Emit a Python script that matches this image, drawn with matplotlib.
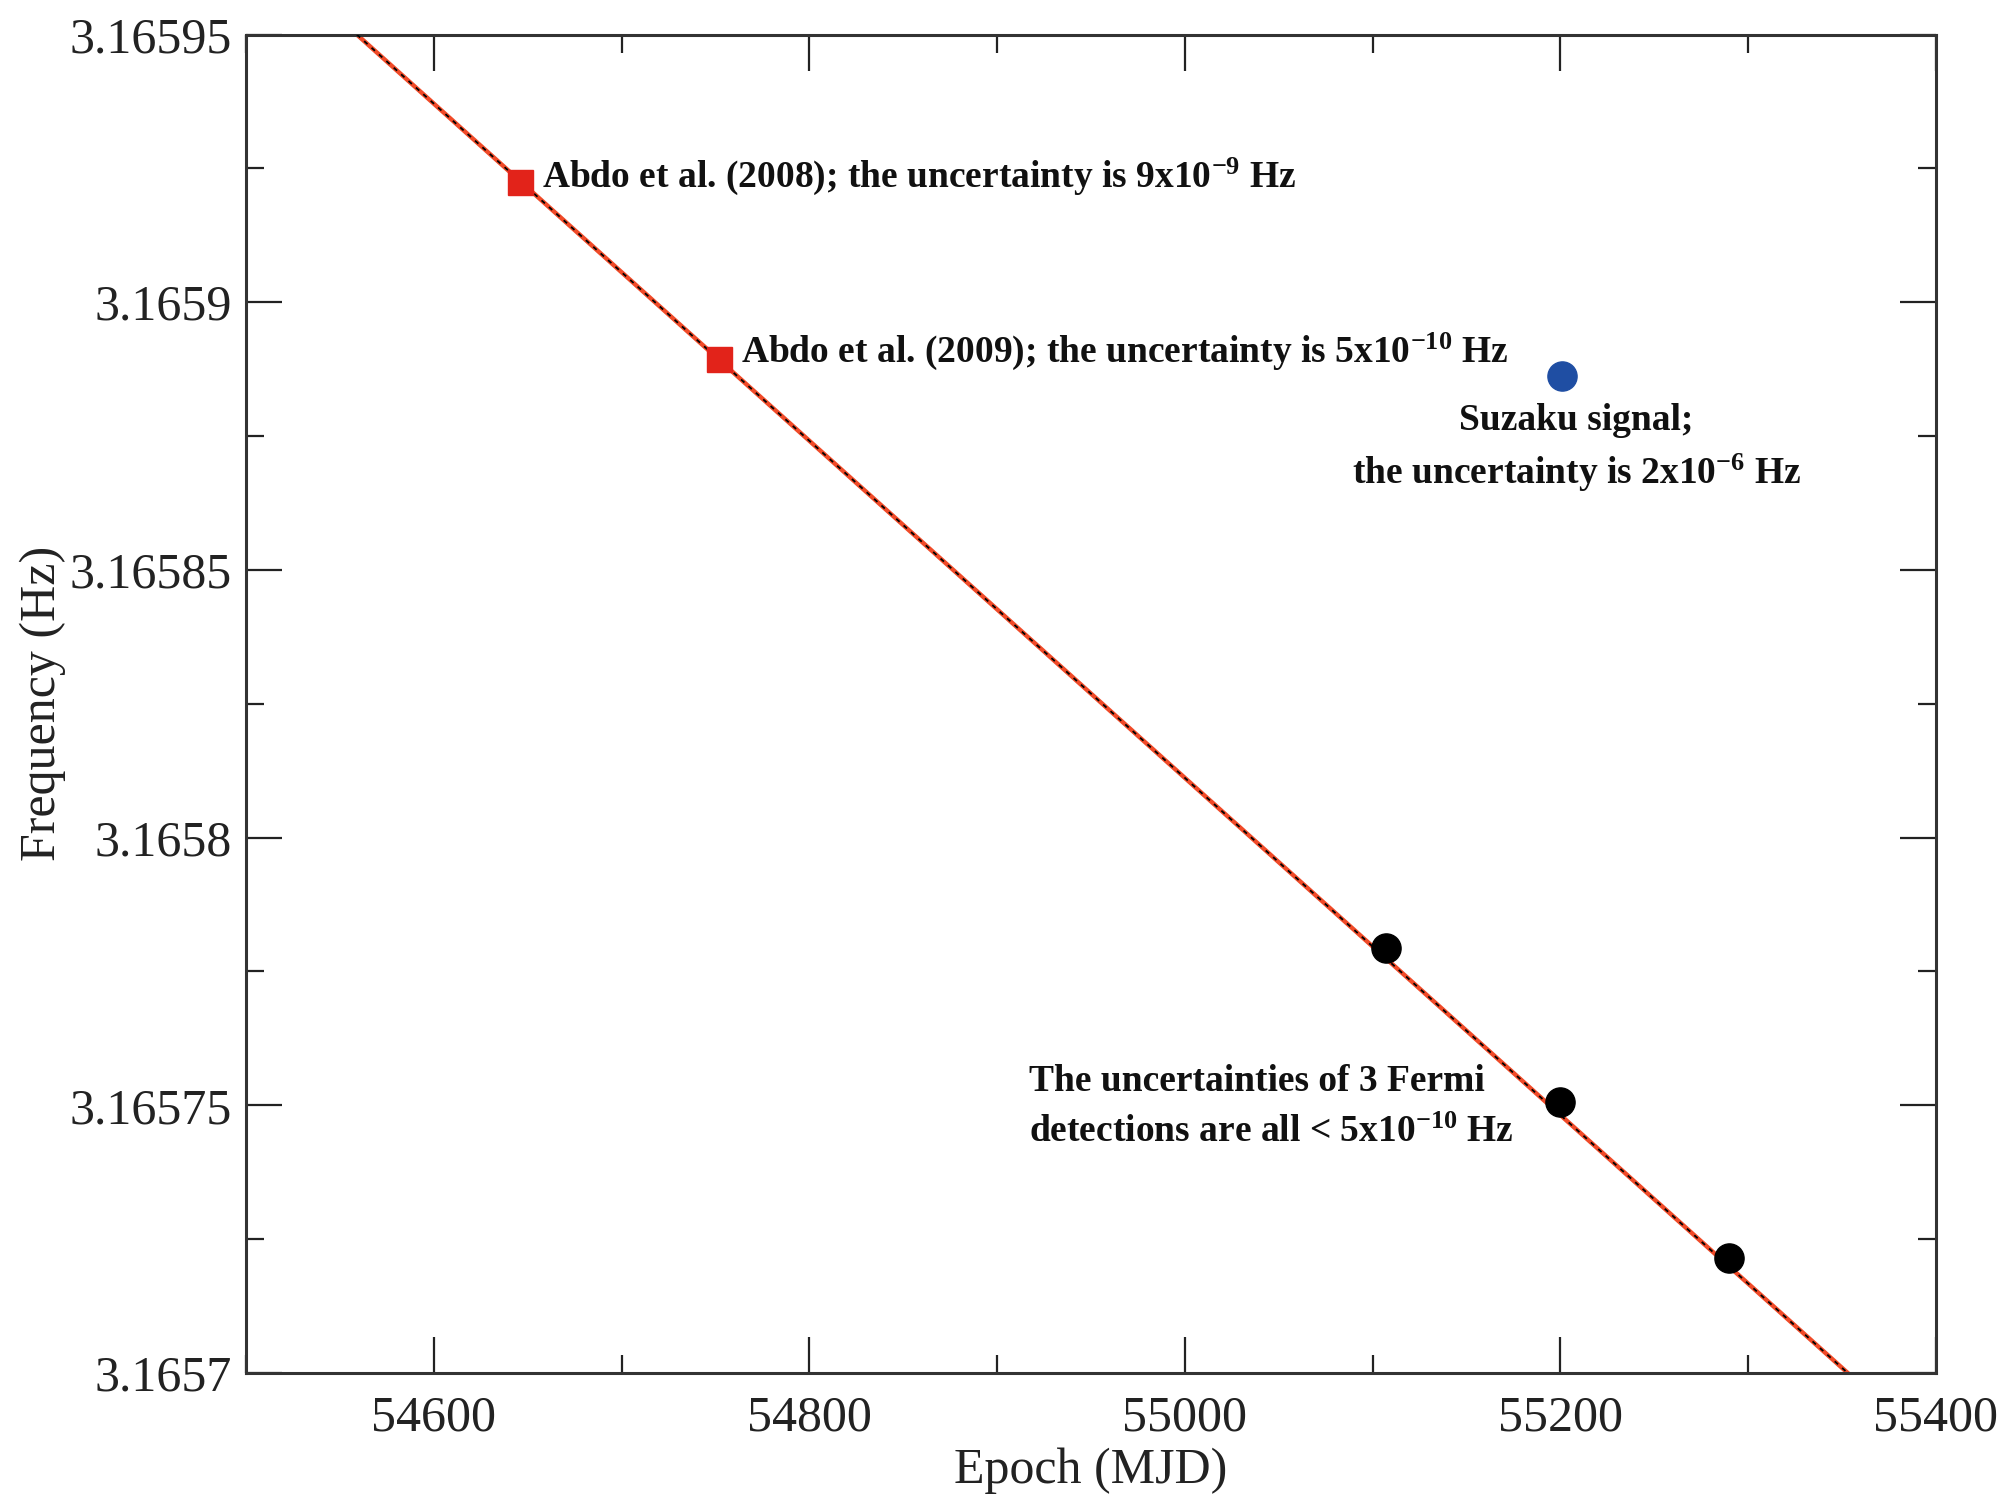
import matplotlib
matplotlib.use("Agg")
import matplotlib.pyplot as plt
from matplotlib.ticker import MultipleLocator

plt.rcParams['font.family'] = ['Liberation Serif', 'DejaVu Serif']
plt.rcParams['mathtext.fontset'] = 'custom'
plt.rcParams['mathtext.rm'] = 'Liberation Serif:bold'
plt.rcParams['mathtext.it'] = 'Liberation Serif:bold'
plt.rcParams['mathtext.bf'] = 'Liberation Serif:bold'
plt.rcParams['mathtext.default'] = 'rm'

# ---- data ----
fit_epoch = [54559, 55353]
fit_freq = [3.16595, 3.16570]

abdo_epoch = [54646, 54752]
abdo_freq = [3.1659225, 3.1658893]

fermi_epoch = [55107, 55200, 55290]
fermi_freq = [3.1657793, 3.1657507, 3.1657215]

suzaku_epoch = [55201]
suzaku_freq = [3.1658862]

xticks = [54600, 54800, 55000, 55200, 55400]
yticks = [3.1657, 3.16575, 3.1658, 3.16585, 3.1659, 3.16595]
ytick_labels = ["3.1657", "3.16575", "3.1658", "3.16585", "3.1659", "3.16595"]

fig = plt.figure(figsize=(20.04, 14.99), dpi=100)
ax = fig.add_axes([246/2004, 1 - 1373/1499, (1936-246)/2004, (1373-34.5)/1499])

ax.plot(fit_epoch, fit_freq, color='#f04a28', lw=3.2, zorder=2)
ax.plot(fit_epoch, fit_freq, color='black', lw=1.3, ls=(0, (2.5, 3.0)), zorder=3)

ax.plot(abdo_epoch, abdo_freq, 's', color='#e2231a', ms=18, mec='#e2231a', zorder=4)
ax.plot(fermi_epoch, fermi_freq, 'o', color='black', ms=21, zorder=4)
ax.plot(suzaku_epoch, suzaku_freq, 'o', color='#1f4ea3', ms=21, zorder=4)

bold = dict(fontsize=27, fontweight='bold', color='#111111')
ax.annotate("Abdo et al. (2008); the uncertainty is 9x10$^{-9}$ Hz",
            (abdo_epoch[0], abdo_freq[0]), xytext=(16, 4), textcoords='offset points',
            ha='left', va='center', **bold)
ax.annotate("Abdo et al. (2009); the uncertainty is 5x10$^{-10}$ Hz",
            (abdo_epoch[1], abdo_freq[1]), xytext=(16, 6), textcoords='offset points',
            ha='left', va='center', **bold)
ax.annotate("Suzaku signal;\nthe uncertainty is 2x10$^{-6}$ Hz",
            (suzaku_epoch[0], suzaku_freq[0]), xytext=(10, -52), textcoords='offset points',
            ha='center', va='center', multialignment='center', linespacing=1.45, **bold)
ax.text(54917, 3.1657497, "The uncertainties of 3 Fermi\ndetections are all < 5x10$^{-10}$ Hz",
        ha='left', va='center', linespacing=1.58, **bold)

ax.set_xlim(54500, 55400)
ax.set_ylim(3.1657, 3.16595)
ax.set_xticks(xticks)
ax.xaxis.set_minor_locator(MultipleLocator(100))
ax.set_yticks(yticks)
ax.set_yticklabels(ytick_labels)
ax.yaxis.set_minor_locator(MultipleLocator(0.000025))

ax.tick_params(which='both', direction='in', top=True, right=True, width=1.6, color='#222222')
ax.tick_params(which='major', length=26)
ax.tick_params(which='minor', length=13)
ax.tick_params(axis='both', labelsize=36, colors='#222222')
ax.tick_params(axis='x', pad=16)
ax.tick_params(axis='y', pad=10)
for s in ax.spines.values():
    s.set_linewidth(2.2)
    s.set_color('#333333')

ax.set_xlabel("Epoch (MJD)", fontsize=36, labelpad=4, color='#222222')
ax.set_ylabel("Frequency (Hz)", fontsize=36, labelpad=3, color='#222222')

fig.savefig("out.png", dpi=100)
